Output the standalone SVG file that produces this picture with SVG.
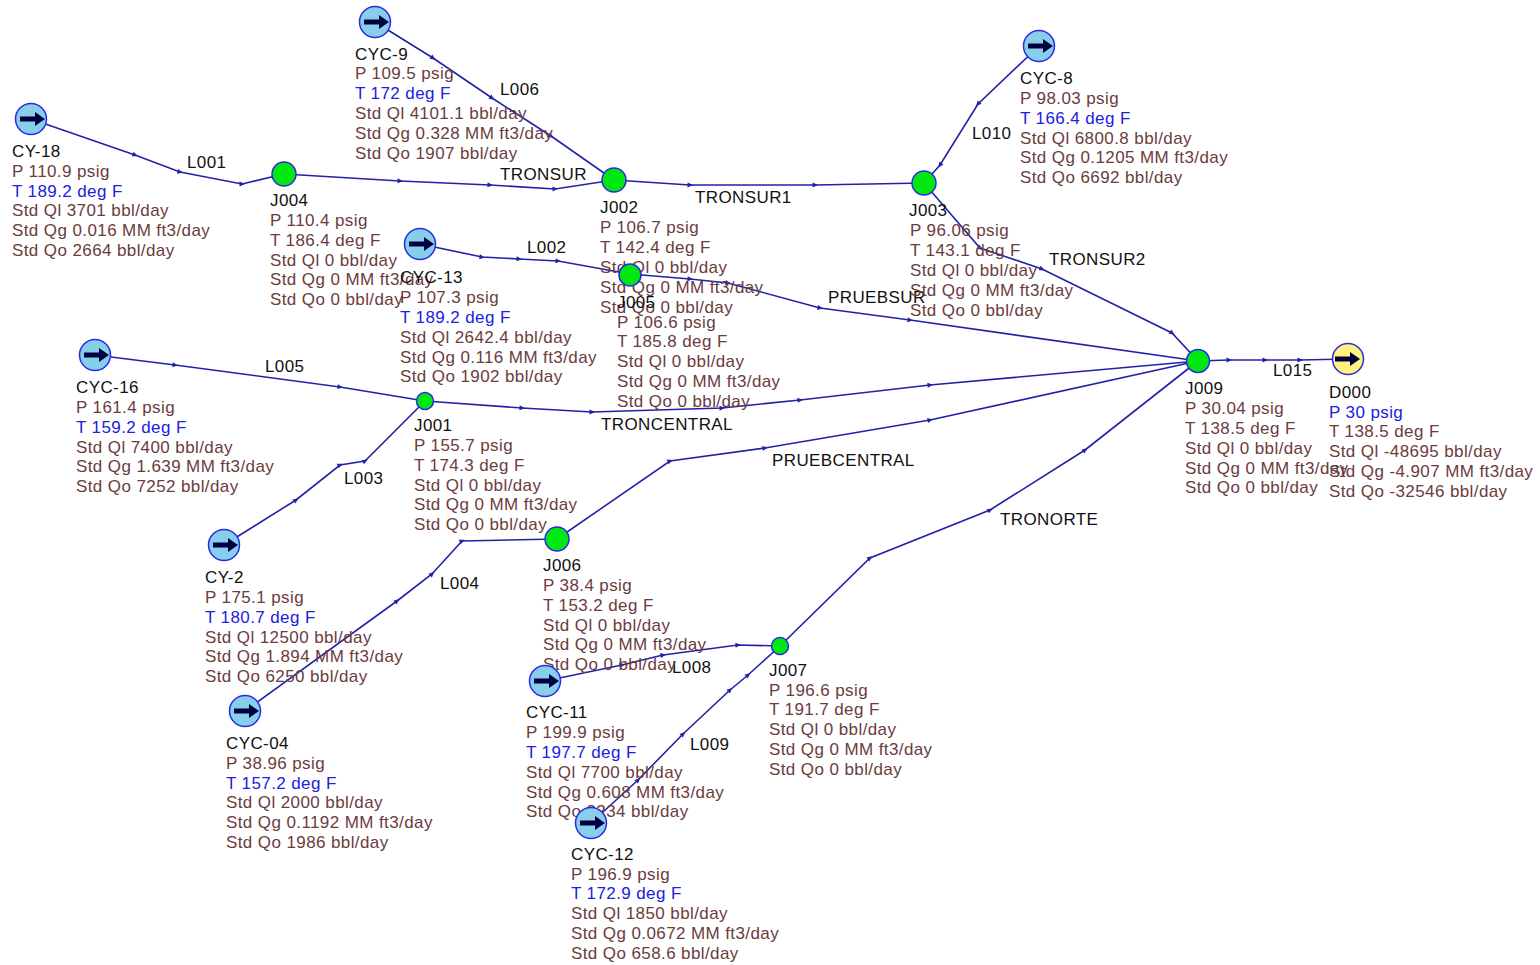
<svg xmlns="http://www.w3.org/2000/svg" width="1540" height="965" viewBox="0 0 1540 965">
<style>
text{font-family:"Liberation Sans",Arial,sans-serif;font-size:17px;letter-spacing:.4px;fill:#6b3c3c}
.n{fill:#111}
.b{fill:#2020e0}
.c{fill:none;stroke:#2222a8;stroke-width:1.6;marker-mid:url(#m)}
.s{fill:#87ceeb;stroke:#2a2ae6;stroke-width:1.5}
.d{fill:#fff27f;stroke:#2a2ae6;stroke-width:1.5}
.j{fill:#00e810;stroke:#2a2ae6;stroke-width:1.5}
.a{stroke:#000040;stroke-width:5;fill:none}
.h{fill:#000040}
</style>
<defs>
<marker id="m" markerWidth="7" markerHeight="6" refX="3" refY="3" orient="auto" markerUnits="userSpaceOnUse"><path d="M0.5 0.5L6 3L0.5 5.5Z" fill="#2222a8"/></marker>
<g id="arrow"><path class="a" d="M-11 0H5"/><path class="h" d="M4-7L14 0L4 7Z"/></g>
</defs>
<g id="connectors">
<polyline class="c" points="31,119 135,155 180,172 242,184 284,174"/>
<polyline class="c" points="284,174 400,181 490,185 555,189 614,180"/>
<polyline class="c" points="375,22 433,58 492,98 551,136 614,180"/>
<polyline class="c" points="614,180 690,185 815,185 924,183"/>
<polyline class="c" points="1039,46 978,104 940,165 924,183"/>
<polyline class="c" points="924,183 980,248 1042,269 1172,333 1198,361"/>
<polyline class="c" points="420,244 482,257 519,259 558,261 630,274"/>
<polyline class="c" points="630,274 690,279 728,283 820,308 910,320 1198,361"/>
<polyline class="c" points="95,355 175,365 340,387 425,401"/>
<polyline class="c" points="425,401 522,408 592,412 722,408 800,400 930,385 1198,361"/>
<polyline class="c" points="224,545 296,500 340,465 365,461 425,401"/>
<polyline class="c" points="245,711 397,601 432,574 462,541 557,539"/>
<polyline class="c" points="557,539 670,461 765,448 930,420 1198,361"/>
<polyline class="c" points="545,681 622,665 663,655 738,645 780,646"/>
<polyline class="c" points="591,823 638,780 683,734 730,690 748,675 780,646"/>
<polyline class="c" points="780,646 870,558 990,510 1085,450 1198,361"/>
<polyline class="c" points="1198,361 1229,360 1265,360 1300,360 1348,359"/>
</g>
<g id="pipe-labels" class="n">
<text class="n" x="187" y="168">L001</text>
<text class="n" x="500" y="95">L006</text>
<text class="n" x="500" y="180">TRONSUR</text>
<text class="n" x="695" y="203">TRONSUR1</text>
<text class="n" x="972" y="139">L010</text>
<text class="n" x="1049" y="265">TRONSUR2</text>
<text class="n" x="527" y="253">L002</text>
<text class="n" x="828" y="303">PRUEBSUR</text>
<text class="n" x="265" y="372">L005</text>
<text class="n" x="601" y="430">TRONCENTRAL</text>
<text class="n" x="344" y="484">L003</text>
<text class="n" x="440" y="589">L004</text>
<text class="n" x="772" y="466">PRUEBCENTRAL</text>
<text class="n" x="1000" y="525">TRONORTE</text>
<text class="n" x="672" y="673">L008</text>
<text class="n" x="690" y="750">L009</text>
<text class="n" x="1273" y="376">L015</text>
</g>
<g id="CY-18"><circle class="s" cx="31" cy="119" r="15.5"/><use href="#arrow" x="31" y="119"/>
<text class="n" x="12" y="157">CY-18</text><text x="12" y="177">P 110.9 psig</text><text class="b" x="12" y="197">T 189.2 deg F</text><text x="12" y="216">Std Ql 3701 bbl/day</text><text x="12" y="236">Std Qg 0.016 MM ft3/day</text><text x="12" y="256">Std Qo 2664 bbl/day</text></g>
<g id="CYC-9"><circle class="s" cx="375" cy="22" r="15.5"/><use href="#arrow" x="375" y="22"/>
<text class="n" x="355" y="60">CYC-9</text><text x="355" y="79">P 109.5 psig</text><text class="b" x="355" y="99">T 172 deg F</text><text x="355" y="119">Std Ql 4101.1 bbl/day</text><text x="355" y="139">Std Qg 0.328 MM ft3/day</text><text x="355" y="159">Std Qo 1907 bbl/day</text></g>
<g id="CYC-8"><circle class="s" cx="1039" cy="46" r="15.5"/><use href="#arrow" x="1039" y="46"/>
<text class="n" x="1020" y="84">CYC-8</text><text x="1020" y="104">P 98.03 psig</text><text class="b" x="1020" y="124">T 166.4 deg F</text><text x="1020" y="144">Std Ql 6800.8 bbl/day</text><text x="1020" y="163">Std Qg 0.1205 MM ft3/day</text><text x="1020" y="183">Std Qo 6692 bbl/day</text></g>
<g id="J004"><circle class="j" cx="284" cy="174" r="12"/>
<text class="n" x="270" y="206">J004</text><text x="270" y="226">P 110.4 psig</text><text x="270" y="246">T 186.4 deg F</text><text x="270" y="266">Std Ql 0 bbl/day</text><text x="270" y="285">Std Qg 0 MM ft3/day</text><text x="270" y="305">Std Qo 0 bbl/day</text></g>
<g id="J002"><circle class="j" cx="614" cy="180" r="12"/>
<text class="n" x="600" y="213">J002</text><text x="600" y="233">P 106.7 psig</text><text x="600" y="253">T 142.4 deg F</text><text x="600" y="273">Std Ql 0 bbl/day</text><text x="600" y="293">Std Qg 0 MM ft3/day</text><text x="600" y="313">Std Qo 0 bbl/day</text></g>
<g id="J003"><circle class="j" cx="924" cy="183" r="12"/>
<text class="n" x="909" y="216">J003</text><text x="910" y="236">P 96.06 psig</text><text x="910" y="256">T 143.1 deg F</text><text x="910" y="276">Std Ql 0 bbl/day</text><text x="910" y="296">Std Qg 0 MM ft3/day</text><text x="910" y="316">Std Qo 0 bbl/day</text></g>
<g id="CYC-13"><circle class="s" cx="420" cy="244" r="15.5"/><use href="#arrow" x="420" y="244"/>
<text class="n" x="400" y="283">CYC-13</text><text x="400" y="303">P 107.3 psig</text><text class="b" x="400" y="323">T 189.2 deg F</text><text x="400" y="343">Std Ql 2642.4 bbl/day</text><text x="400" y="363">Std Qg 0.116 MM ft3/day</text><text x="400" y="382">Std Qo 1902 bbl/day</text></g>
<g id="J005"><circle class="j" cx="630" cy="275" r="11"/>
<text class="n" x="617" y="308">J005</text><text x="617" y="328">P 106.6 psig</text><text x="617" y="347">T 185.8 deg F</text><text x="617" y="367">Std Ql 0 bbl/day</text><text x="617" y="387">Std Qg 0 MM ft3/day</text><text x="617" y="407">Std Qo 0 bbl/day</text></g>
<g id="CYC-16"><circle class="s" cx="95" cy="355" r="15.5"/><use href="#arrow" x="95" y="355"/>
<text class="n" x="76" y="393">CYC-16</text><text x="76" y="413">P 161.4 psig</text><text class="b" x="76" y="433">T 159.2 deg F</text><text x="76" y="453">Std Ql 7400 bbl/day</text><text x="76" y="472">Std Qg 1.639 MM ft3/day</text><text x="76" y="492">Std Qo 7252 bbl/day</text></g>
<g id="J001"><circle class="j" cx="425" cy="401" r="8.5"/>
<text class="n" x="414" y="431">J001</text><text x="414" y="451">P 155.7 psig</text><text x="414" y="471">T 174.3 deg F</text><text x="414" y="491">Std Ql 0 bbl/day</text><text x="414" y="510">Std Qg 0 MM ft3/day</text><text x="414" y="530">Std Qo 0 bbl/day</text></g>
<g id="CY-2"><circle class="s" cx="224" cy="545" r="15.5"/><use href="#arrow" x="224" y="545"/>
<text class="n" x="205" y="583">CY-2</text><text x="205" y="603">P 175.1 psig</text><text class="b" x="205" y="623">T 180.7 deg F</text><text x="205" y="643">Std Ql 12500 bbl/day</text><text x="205" y="662">Std Qg 1.894 MM ft3/day</text><text x="205" y="682">Std Qo 6250 bbl/day</text></g>
<g id="J006"><circle class="j" cx="557" cy="539" r="12"/>
<text class="n" x="543" y="571">J006</text><text x="543" y="591">P 38.4 psig</text><text x="543" y="611">T 153.2 deg F</text><text x="543" y="631">Std Ql 0 bbl/day</text><text x="543" y="650">Std Qg 0 MM ft3/day</text><text x="543" y="670">Std Qo 0 bbl/day</text></g>
<g id="CYC-04"><circle class="s" cx="245" cy="711" r="15.5"/><use href="#arrow" x="245" y="711"/>
<text class="n" x="226" y="749">CYC-04</text><text x="226" y="769">P 38.96 psig</text><text class="b" x="226" y="789">T 157.2 deg F</text><text x="226" y="808">Std Ql 2000 bbl/day</text><text x="226" y="828">Std Qg 0.1192 MM ft3/day</text><text x="226" y="848">Std Qo 1986 bbl/day</text></g>
<g id="CYC-11"><circle class="s" cx="545" cy="681" r="15.5"/><use href="#arrow" x="545" y="681"/>
<text class="n" x="526" y="718">CYC-11</text><text x="526" y="738">P 199.9 psig</text><text class="b" x="526" y="758">T 197.7 deg F</text><text x="526" y="778">Std Ql 7700 bbl/day</text><text x="526" y="798">Std Qg 0.608 MM ft3/day</text><text x="526" y="817">Std Qo 3234 bbl/day</text></g>
<g id="J007"><circle class="j" cx="780" cy="646" r="8.5"/>
<text class="n" x="769" y="676">J007</text><text x="769" y="696">P 196.6 psig</text><text x="769" y="715">T 191.7 deg F</text><text x="769" y="735">Std Ql 0 bbl/day</text><text x="769" y="755">Std Qg 0 MM ft3/day</text><text x="769" y="775">Std Qo 0 bbl/day</text></g>
<g id="CYC-12"><circle class="s" cx="591" cy="823" r="15.5"/><use href="#arrow" x="591" y="823"/>
<text class="n" x="571" y="860">CYC-12</text><text x="571" y="880">P 196.9 psig</text><text class="b" x="571" y="899">T 172.9 deg F</text><text x="571" y="919">Std Ql 1850 bbl/day</text><text x="571" y="939">Std Qg 0.0672 MM ft3/day</text><text x="571" y="959">Std Qo 658.6 bbl/day</text></g>
<g id="J009"><circle class="j" cx="1198" cy="361" r="11.5"/>
<text class="n" x="1185" y="394">J009</text><text x="1185" y="414">P 30.04 psig</text><text x="1185" y="434">T 138.5 deg F</text><text x="1185" y="454">Std Ql 0 bbl/day</text><text x="1185" y="474">Std Qg 0 MM ft3/day</text><text x="1185" y="493">Std Qo 0 bbl/day</text></g>
<g id="D000"><circle class="d" cx="1348" cy="359" r="15.5"/><use href="#arrow" x="1346" y="359"/>
<text class="n" x="1329" y="398">D000</text><text class="b" x="1329" y="418">P 30 psig</text><text x="1329" y="437">T 138.5 deg F</text><text x="1329" y="457">Std Ql -48695 bbl/day</text><text x="1329" y="477">Std Qg -4.907 MM ft3/day</text><text x="1329" y="497">Std Qo -32546 bbl/day</text></g>
</svg>
